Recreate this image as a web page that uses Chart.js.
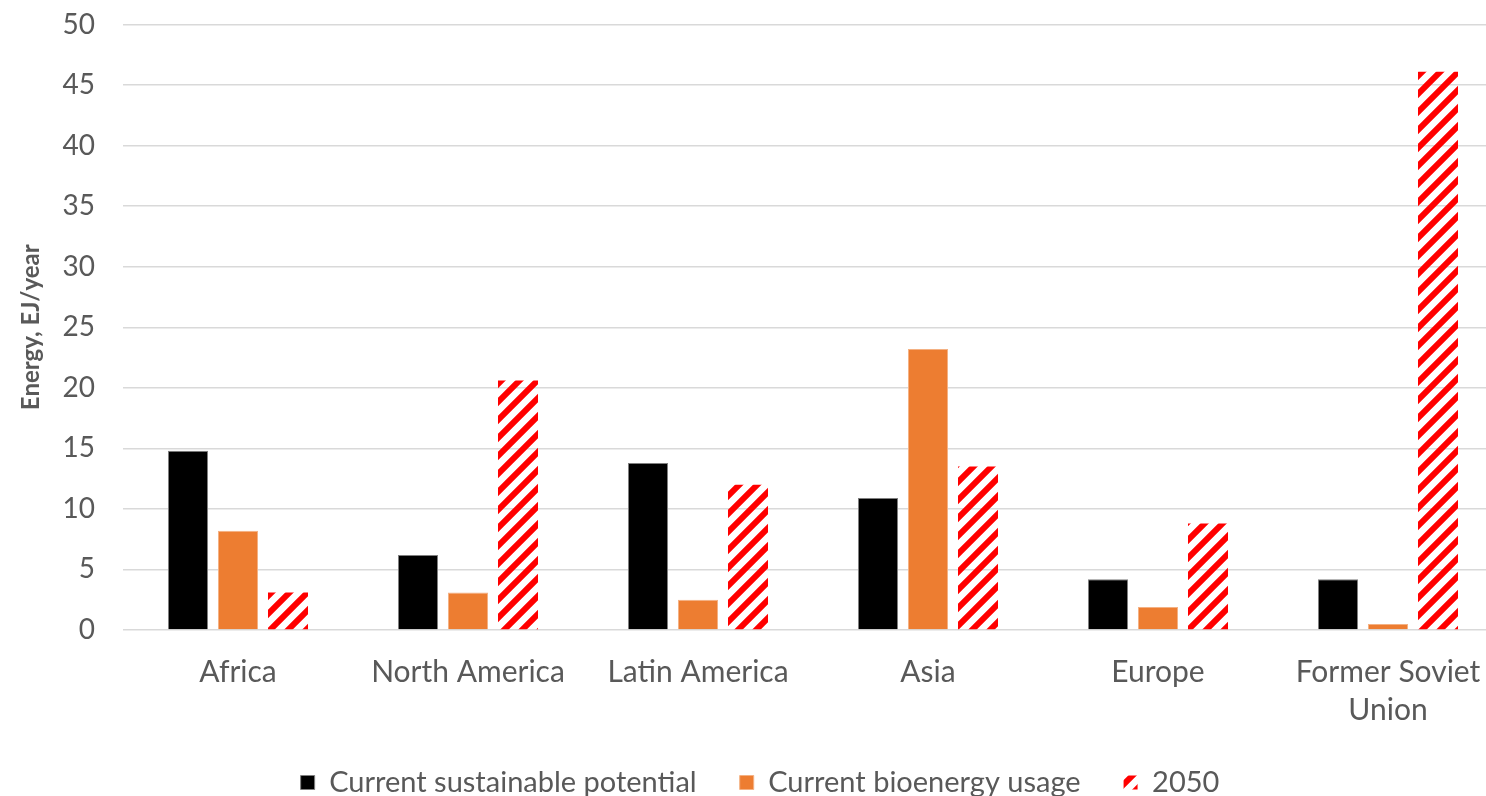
<!DOCTYPE html>
<html>
<head>
<meta charset="utf-8">
<script src="https://cdn.jsdelivr.net/npm/chart.js@4/dist/chart.umd.min.js"></script>
<style>
  html, body { margin: 0; padding: 0; overflow: hidden; background: #fff; }
  #wrap { position: relative; width: 1520px; height: 807px; }
</style>
</head>
<body>
<div id="wrap"><canvas id="c" width="1520" height="807"></canvas></div>
<script>
const categories = ["Africa", "North America", "Latin America", "Asia", "Europe", ["Former Soviet", "Union"]];
const potential = [14.8, 6.2, 13.8, 10.9, 4.2, 4.2];
const usage = [8.2, 3.1, 2.5, 23.2, 1.9, 0.5];
const y2050 = [3.1, 20.6, 12.0, 13.5, 8.8, 46.1];
const seriesNames = ["Current sustainable potential", "Current bioenergy usage", "2050"];
const yTitle = "Energy, EJ/year";

function makeHatch() {
  const s = 18;
  const c = document.createElement('canvas');
  c.width = s; c.height = s;
  const g = c.getContext('2d');
  g.strokeStyle = '#FF0000';
  g.lineWidth = 6;
  g.lineCap = 'square';
  g.beginPath();
  g.moveTo(0, s); g.lineTo(s, 0);
  g.moveTo(-s / 2, s / 2); g.lineTo(s / 2, -s / 2);
  g.moveTo(s / 2, s * 1.5); g.lineTo(s * 1.5, s / 2);
  g.stroke();
  return g.createPattern(c, 'repeat');
}

function build() {
  Chart.defaults.font.family = 'Lato, "Open Sans", sans-serif';
  Chart.defaults.color = '#595959';
  const hatch = makeHatch();
  new Chart(document.getElementById('c'), {
    type: 'bar',
    data: {
      labels: categories,
      datasets: [
        { label: seriesNames[0], data: potential, backgroundColor: '#000000', borderColor: '#7f7f7f', borderWidth: 1 },
        { label: seriesNames[1], data: usage, backgroundColor: '#ED7D31', borderColor: '#F4B183', borderWidth: 1 },
        { label: seriesNames[2], data: y2050, backgroundColor: hatch, borderWidth: 0 }
      ]
    },
    options: {
      responsive: false,
      animation: false,
      categoryPercentage: 150 / 230,
      barPercentage: 0.8,
      layout: { padding: { top: 24.5, right: 17, left: 17, bottom: 0 } },
      plugins: {
        tooltip: { enabled: false },
        legend: {
          position: 'bottom',
          labels: {
            boxWidth: 14,
            boxHeight: 14,
            padding: 43,
            color: '#595959',
            font: { size: 29 }
          }
        }
      },
      scales: {
        x: {
          grid: { display: false, drawTicks: false },
          border: { display: false },
          ticks: { color: '#595959', font: { size: 30, lineHeight: 1.25 }, padding: 24, maxRotation: 0, autoSkip: false },
          afterFit: (s) => { s.height = 95; }
        },
        y: {
          min: 0, max: 50,
          ticks: { stepSize: 5, color: '#595959', font: { size: 28 }, padding: 0 },
          grid: { color: '#d9d9d9', lineWidth: 1.5, drawTicks: true, tickLength: 28, tickColor: 'rgba(0,0,0,0)' },
          border: { display: false },
          title: { display: true, text: yTitle, color: '#595959', font: { size: 24, weight: 'bold' }, padding: { top: 0, bottom: 0 } },
          afterFit: (s) => { s.width = 106; }
        }
      }
    }
  });
}

if (document.fonts && document.fonts.load) {
  Promise.all([document.fonts.load('28px Lato'), document.fonts.load('bold 24px Lato')]).then(build, build);
} else { build(); }
</script>
</body>
</html>
